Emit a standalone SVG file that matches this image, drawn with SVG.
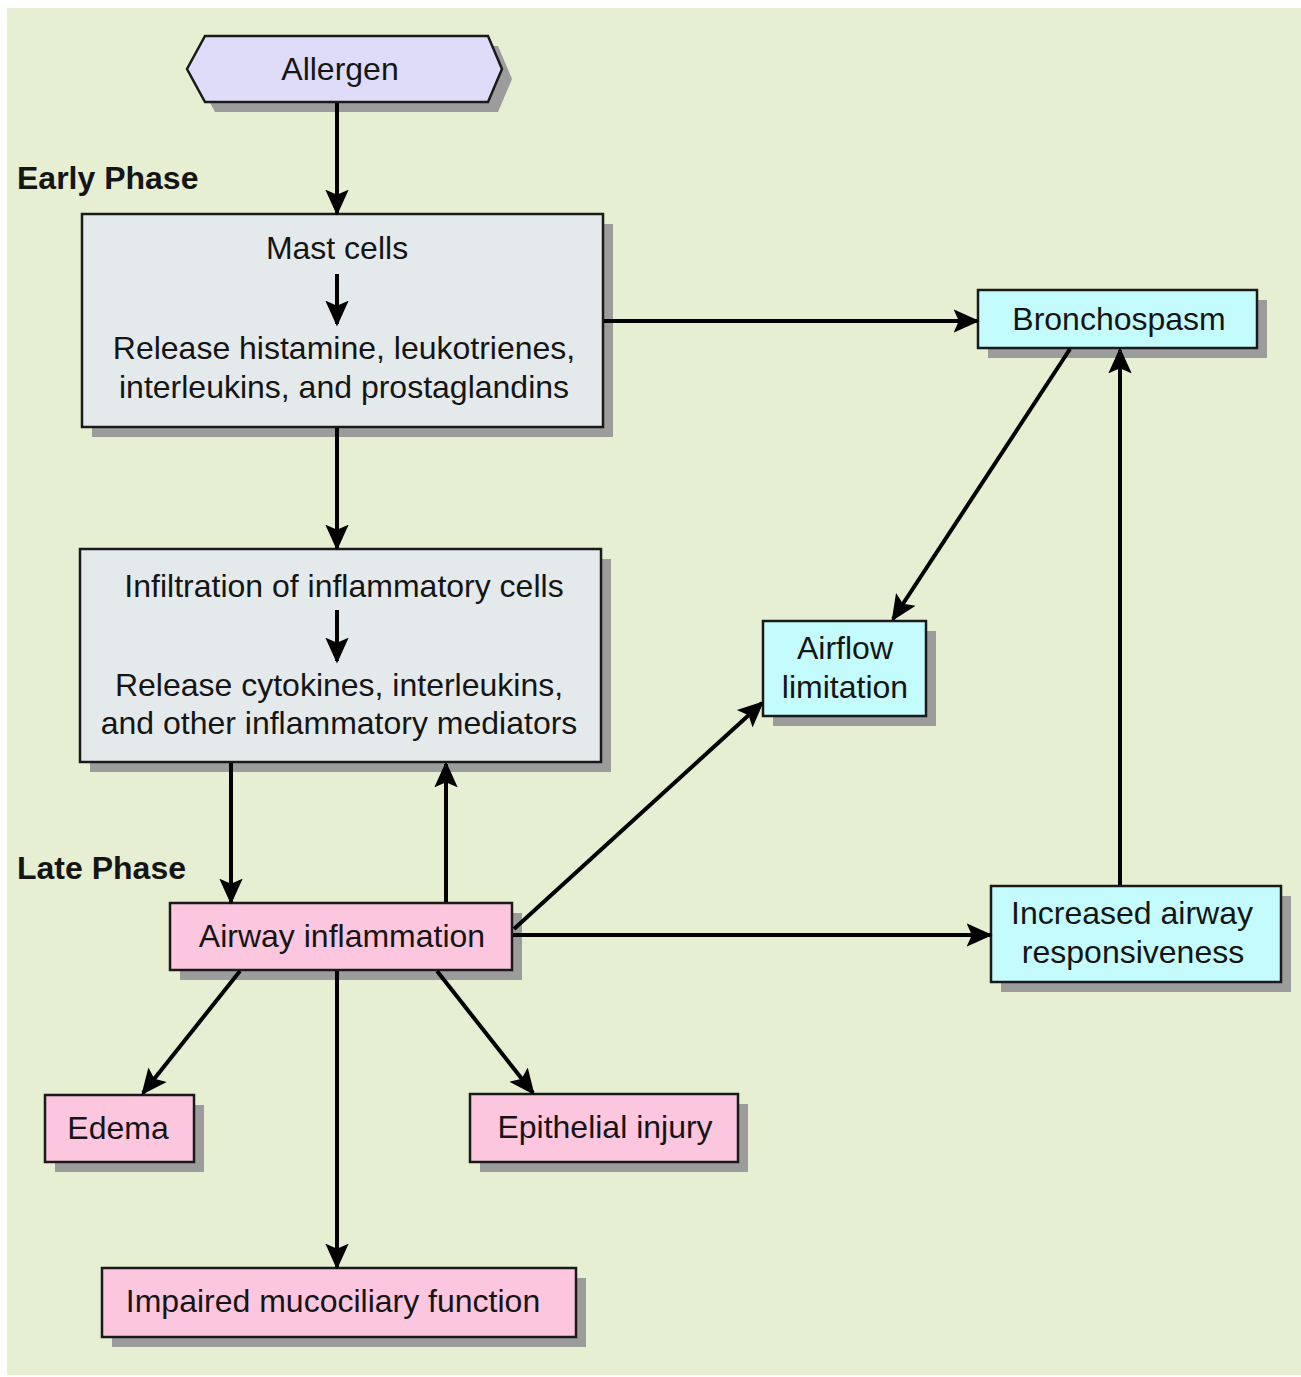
<svg xmlns="http://www.w3.org/2000/svg" width="1301" height="1377" viewBox="0 0 1301 1377">
  <style>
    .t { font-family: "Liberation Sans", Arial, sans-serif; font-size: 32px; fill: #151515; text-anchor: middle; }
    .h { font-family: "Liberation Sans", Arial, sans-serif; font-size: 32px; font-weight: bold; fill: #151515; }
    .box { stroke: #1a1a1a; stroke-width: 2.5; }
    .shadow { fill: #9c9c9c; }
    .grey { fill: #e4eaec; }
    .cyan { fill: #c4fbfd; }
    .pink { fill: #fcc6de; }
    .lav { fill: #dedcf8; }
    .edge { stroke: #000; stroke-width: 4; fill: none; marker-end: url(#arr); }
  </style>
  <defs>
    <marker id="arr" viewBox="0 0 20 20" refX="18" refY="10" markerWidth="6.5" markerHeight="6.5" markerUnits="strokeWidth" orient="auto">
      <path d="M0,1 L20,10 L0,19 L4,10 Z" fill="#000"/>
    </marker>
  </defs>

  <!-- page -->
  <rect width="1301" height="1377" fill="#ffffff"/>
  <rect x="7" y="8" width="1294" height="1367" fill="#e6efd2"/>

  <!-- section labels -->
  <text class="h" x="17" y="189">Early Phase</text>
  <text class="h" x="17" y="879">Late Phase</text>

  <!-- nodes -->
  <g id="allergen">
    <polygon class="shadow" points="215,46 498,46 512,79 498,112 215,112 197,79"/>
    <polygon class="box lav" points="205,36 488,36 502,69 488,102 205,102 187,69"/>
    <text class="t" x="340" y="80">Allergen</text>
  </g>

  <g id="mast-cells">
    <rect class="shadow" x="92" y="224" width="521" height="213"/>
    <rect class="box grey" x="82" y="214" width="521" height="213"/>
    <text class="t" x="337" y="259">Mast cells</text>
    <line class="edge" x1="337" y1="274" x2="337" y2="324"/>
    <text class="t" x="344" y="359">Release histamine, leukotrienes,</text>
    <text class="t" x="344" y="398">interleukins, and prostaglandins</text>
  </g>

  <g id="infiltration">
    <rect class="shadow" x="90" y="559" width="521" height="213"/>
    <rect class="box grey" x="80" y="549" width="521" height="213"/>
    <text class="t" x="344" y="597">Infiltration of inflammatory cells</text>
    <line class="edge" x1="337" y1="610" x2="337" y2="661"/>
    <text class="t" x="339" y="696">Release cytokines, interleukins,</text>
    <text class="t" x="339" y="734">and other inflammatory mediators</text>
  </g>

  <g id="bronchospasm">
    <rect class="shadow" x="988" y="300" width="279" height="58"/>
    <rect class="box cyan" x="978" y="290" width="279" height="58"/>
    <text class="t" x="1119" y="330">Bronchospasm</text>
  </g>

  <g id="airflow-limitation">
    <rect class="shadow" x="773" y="631" width="163" height="95"/>
    <rect class="box cyan" x="763" y="621" width="163" height="95"/>
    <text class="t" x="845" y="659">Airflow</text>
    <text class="t" x="845" y="698">limitation</text>
  </g>

  <g id="increased-airway-responsiveness">
    <rect class="shadow" x="1001" y="896" width="290" height="96"/>
    <rect class="box cyan" x="991" y="886" width="290" height="96"/>
    <text class="t" x="1132" y="924">Increased airway</text>
    <text class="t" x="1133" y="963">responsiveness</text>
  </g>

  <g id="airway-inflammation">
    <rect class="shadow" x="180" y="913" width="342" height="67"/>
    <rect class="box pink" x="170" y="903" width="342" height="67"/>
    <text class="t" x="342" y="947">Airway inflammation</text>
  </g>

  <g id="edema">
    <rect class="shadow" x="55" y="1105" width="149" height="67"/>
    <rect class="box pink" x="45" y="1095" width="149" height="67"/>
    <text class="t" x="118" y="1139">Edema</text>
  </g>

  <g id="epithelial-injury">
    <rect class="shadow" x="480" y="1104" width="268" height="68"/>
    <rect class="box pink" x="470" y="1094" width="268" height="68"/>
    <text class="t" x="605" y="1138">Epithelial injury</text>
  </g>

  <g id="impaired-mucociliary-function">
    <rect class="shadow" x="112" y="1278" width="474" height="69"/>
    <rect class="box pink" x="102" y="1268" width="474" height="69"/>
    <text class="t" x="333" y="1312">Impaired mucociliary function</text>
  </g>

  <!-- connectors, drawn over the drop shadows -->
  <g id="connectors">
    <line class="edge" x1="337" y1="103" x2="337" y2="213"/>
    <line class="edge" x1="604" y1="321" x2="977" y2="321"/>
    <line class="edge" x1="337" y1="428" x2="337" y2="548"/>
    <line class="edge" x1="1070" y1="349" x2="893" y2="619"/>
    <line class="edge" x1="1120" y1="885" x2="1120" y2="350"/>
    <line class="edge" x1="231" y1="763" x2="231" y2="902"/>
    <line class="edge" x1="446" y1="902" x2="446" y2="764"/>
    <line class="edge" x1="514" y1="929" x2="762" y2="703"/>
    <line class="edge" x1="513" y1="935" x2="990" y2="935"/>
    <line class="edge" x1="240" y1="971" x2="143" y2="1093"/>
    <line class="edge" x1="437" y1="971" x2="533" y2="1093"/>
    <line class="edge" x1="337" y1="971" x2="337" y2="1267"/>
  </g>
</svg>
